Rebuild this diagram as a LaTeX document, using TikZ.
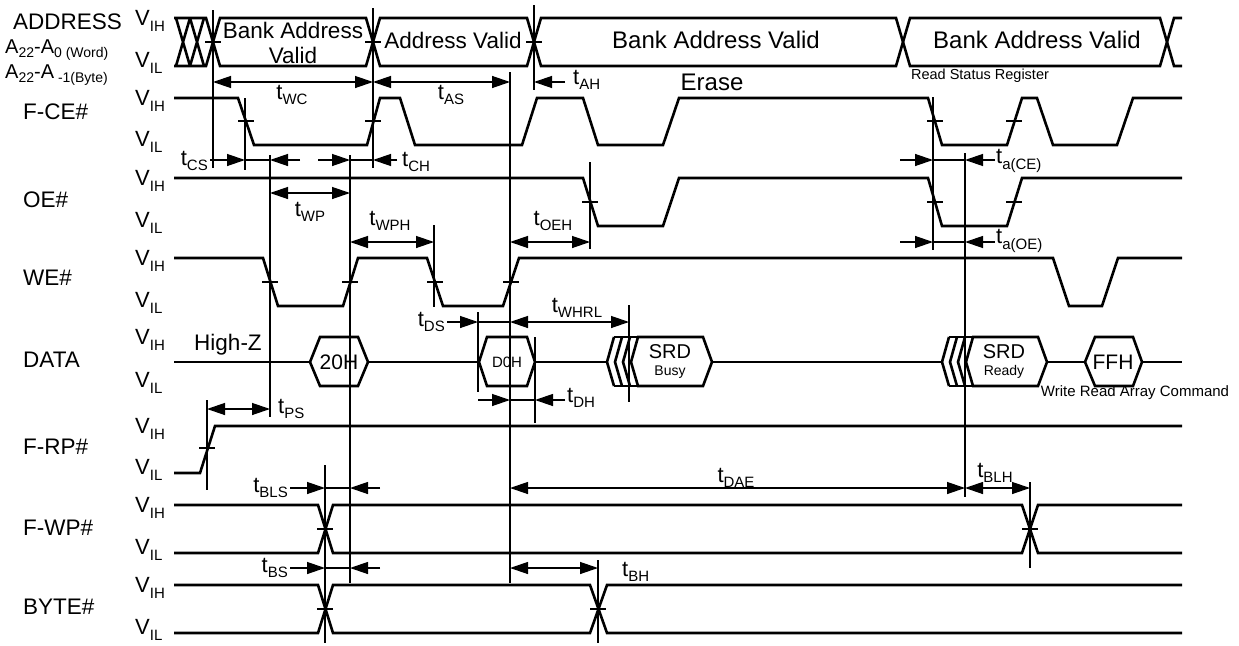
\documentclass[tikz,border=0pt]{standalone}
\usepackage{fontspec}
\setmainfont{Liberation Sans}
\usetikzlibrary{arrows.meta}

\newcommand{\lowsub}[2][15]{\raisebox{-0.45ex}{\fontsize{#1}{#1}\selectfont #2}}
\newcommand{\tname}[1]{{\fontsize{22}{22}\selectfont t\lowsub{#1}}}
\newcommand{\vname}[1]{{\fontsize{22}{22}\selectfont V\lowsub[15]{#1}}}

\begin{document}
\begin{tikzpicture}[x=1pt,y=-1pt,
  sig/.style={line width=2.6pt},
  guide/.style={line width=1.3pt},
  dimin/.style={line width=1.3pt,-{Triangle[length=18pt,width=12pt]}},
  dimboth/.style={line width=1.3pt,{Triangle[length=18pt,width=12pt]}-{Triangle[length=18pt,width=12pt]}},
  lbl/.style={inner sep=0pt,font=\fontsize{22.5}{25}\selectfont},
  note/.style={inner sep=0pt,font=\fontsize{14.5}{16}\selectfont}]

\useasboundingbox (0,0) rectangle (1239,645);

% signal names
\node[lbl,anchor=west] (addr) at (13,22) {ADDRESS};
\node[inner sep=0pt,anchor=west,font=\fontsize{20}{20}\selectfont] (aword) at (5,50) {A\lowsub[14]{22}-A\lowsub[14]{0 (Word)}};
\node[inner sep=0pt,anchor=west,font=\fontsize{20}{20}\selectfont] (abyte) at (5,75) {A\lowsub[14]{22}-A\lowsub[14]{ -1(Byte)}};
\node[lbl,anchor=west] (ce) at (23,112) {F-CE\#};
\node[lbl,anchor=west] (oe) at (23,200) {OE\#};
\node[lbl,anchor=west] (we) at (23,278) {WE\#};
\node[lbl,anchor=west] (data) at (23,360) {DATA};
\node[lbl,anchor=west] (rp) at (23,447) {F-RP\#};
\node[lbl,anchor=west] (wp) at (23,528) {F-WP\#};
\node[lbl,anchor=west] (byte) at (23,607) {BYTE\#};

% levels
\foreach \hi/\lo [count=\i] in {18/66, 98/145, 178/226, 258/306, 337/386, 426/473, 505/553, 585/633} {
  \node[inner sep=0pt,anchor=west] (vih\i) at (135,\hi+3) {\vname{IH}};
  \node[inner sep=0pt,anchor=west] (vil\i) at (135,\lo-3) {\vname{IL}};
}

% ADDRESS
\draw[sig] (174,18) -- (206,18) -- (213,42) -- (206,66) -- (174,66);
\foreach \c in {183,197}
  \draw[sig] (\c-7,18) -- (\c+7,66) (\c-7,66) -- (\c+7,18);
\foreach \a/\b in {213/373, 373/534, 534/903, 903/1167}
  \draw[sig] (\a,42) -- (\a+7,18) -- (\b-7,18) -- (\b,42) -- (\b-7,66) -- (\a+7,66) -- cycle;
\draw[sig] (1182,18) -- (1174,18) -- (1167,42) -- (1174,66) -- (1182,66);
\node[lbl,align=center] (bav1) at (293,43) {Bank Address\\Valid};
\node[lbl] (av) at (453,40) {Address Valid};
\node[lbl,font=\fontsize{24}{26}\selectfont] (bav2) at (716,40) {Bank Address Valid};
\node[lbl,font=\fontsize{24}{26}\selectfont] (bav3) at (1037,40) {Bank Address Valid};
\node[lbl,font=\fontsize{24}{26}\selectfont] (erase) at (712,82) {Erase};
\node[note] (rsr) at (980,76) {Read Status Register};

% F-CE#
\draw[sig] (174,98) -- (238,98) -- (254,145) -- (367,145) -- (380,98) -- (400,98) -- (415,145)
  -- (522,145) -- (537,98) -- (583,98) -- (598,145) -- (663,145) -- (679,98) -- (928,98)
  -- (942,145) -- (1007,145) -- (1022,98) -- (1037,98) -- (1053,145) -- (1117,145) -- (1133,98) -- (1182,98);

% OE#
\draw[sig] (174,178) -- (583,178) -- (598,226) -- (663,226) -- (679,178) -- (928,178)
  -- (942,226) -- (1007,226) -- (1022,178) -- (1182,178);

% WE#
\draw[sig] (174,258) -- (263,258) -- (278,306) -- (343,306) -- (358,258) -- (427,258) -- (443,306)
  -- (503,306) -- (519,258) -- (1053,258) -- (1069,306) -- (1102,306) -- (1118,258) -- (1182,258);

% DATA
\draw[sig] (174,362) -- (310,362) (368,362) -- (479,362) (535,362) -- (607,362)
  (712,362) -- (942,362) (1047,362) -- (1085,362) (1142,362) -- (1182,362);
\draw[sig] (310,362) -- (320,337) -- (358,337) -- (368,362) -- (358,386) -- (320,386) -- cycle;
\draw[sig] (479,362) -- (487,337) -- (527,337) -- (535,362) -- (527,386) -- (487,386) -- cycle;
\foreach \o in {0,8,16} {
  \draw[sig] (614+\o,337) -- (607+\o,362) -- (614+\o,386);
  \draw[sig] (949+\o,337) -- (942+\o,362) -- (949+\o,386);
}
\draw[sig] (614,337) -- (638,337) (614,386) -- (638,386);
\draw[sig] (631,362) -- (638,337) -- (703,337) -- (712,362) -- (703,386) -- (638,386) -- cycle;
\draw[sig] (949,337) -- (973,337) (949,386) -- (973,386);
\draw[sig] (966,362) -- (973,337) -- (1038,337) -- (1047,362) -- (1038,386) -- (973,386) -- cycle;
\draw[sig] (1085,362) -- (1095,337) -- (1133,337) -- (1142,362) -- (1133,386) -- (1095,386) -- cycle;
\node[lbl] (hz) at (228,345) {High-Z};
\node[inner sep=0pt,font=\fontsize{21}{21}\selectfont] (h20) at (339,362) {20H};
\node[inner sep=0pt,font=\fontsize{15}{15}\selectfont] (hd0) at (507,362) {D0H};
\node[inner sep=0pt,font=\fontsize{20}{20}\selectfont] (srd1) at (670,352) {SRD};
\node[inner sep=0pt,font=\fontsize{14}{14}\selectfont] (busy) at (670,372) {Busy};
\node[inner sep=0pt,font=\fontsize{20}{20}\selectfont] (srd2) at (1004,352) {SRD};
\node[inner sep=0pt,font=\fontsize{14}{14}\selectfont] (ready) at (1004,372) {Ready};
\node[inner sep=0pt,font=\fontsize{21}{21}\selectfont] (hff) at (1113,362) {FFH};
\node[inner sep=0pt,font=\fontsize{15}{16}\selectfont] (wrac) at (1135,393) {Write Read Array Command};

% F-RP#
\draw[sig] (174,473) -- (200,473) -- (215,426) -- (1182,426);

% F-WP#
\draw[sig] (174,505) -- (318,505) -- (333,553) -- (1022,553) -- (1038,505) -- (1182,505);
\draw[sig] (174,553) -- (318,553) -- (333,505) -- (1022,505) -- (1038,553) -- (1182,553);

% BYTE#
\draw[sig] (174,585) -- (318,585) -- (333,633) -- (590,633) -- (607,585) -- (1182,585);
\draw[sig] (174,633) -- (318,633) -- (333,585) -- (590,585) -- (607,633) -- (1182,633);

% crossing marks
\foreach \x/\y in {213/42, 373/42, 534/42, 246/121, 373/121, 935/121, 1014/121,
  590/202, 935/202, 1014/202, 270/282, 350/282, 435/282, 511/282,
  207/448, 325/529, 1030/529, 325/609, 598/609}
  \draw[guide] (\x-8,\y) -- (\x+8,\y);

% reference lines
\foreach \x/\a/\b in {213/10/168, 373/8/168, 534/5/90, 245/98/170, 270/155/417, 350/155/583,
  510/72/583, 434/225/307, 590/162/249, 933/97/250, 965/153/497, 478/312/392, 629/305/402,
  535/337/423, 207/400/490, 325/465/643, 1030/482/568, 598/560/643}
  \draw[guide] (\x,\a) -- (\x,\b);

% timing
\draw[dimboth] (213,82) -- (373,82);
\draw[dimboth] (373,82) -- (510,82);
\draw[dimin] (565,82) -- (534,82);
\node[inner sep=0pt] (twc) at (292,95) {\tname{WC}};
\node[inner sep=0pt] (tas) at (451,95) {\tname{AS}};
\node[inner sep=0pt,anchor=west] (tah) at (573,80) {\tname{AH}};

\draw[dimin] (210,160) -- (245,160);
\draw[guide] (245,160) -- (270,160);
\draw[dimin] (300,160) -- (270,160);
\draw[dimin] (318,160) -- (350,160);
\draw[guide] (350,160) -- (373,160);
\draw[dimin] (397,160) -- (373,160);
\node[inner sep=0pt,anchor=east] (tcs) at (208,161) {\tname{CS}};
\node[inner sep=0pt,anchor=west] (tch) at (402,162) {\tname{CH}};

\draw[dimin] (900,160) -- (933,160);
\draw[guide] (933,160) -- (965,160);
\draw[dimin] (995,160) -- (965,160);
\node[inner sep=0pt,anchor=west] (tace) at (996,161) {\tname{a(CE)}};
\draw[dimin] (900,242) -- (933,242);
\draw[guide] (933,242) -- (965,242);
\draw[dimin] (995,242) -- (965,242);
\node[inner sep=0pt,anchor=west] (taoe) at (996,241) {\tname{a(OE)}};

\draw[dimboth] (270,193) -- (350,193);
\node[inner sep=0pt] (twp) at (310,212) {\tname{WP}};
\draw[dimboth] (350,242) -- (434,242);
\node[inner sep=0pt] (twph) at (390,221) {\tname{WPH}};
\draw[dimboth] (510,242) -- (590,242);
\node[inner sep=0pt] (toeh) at (553,221) {\tname{OEH}};

\draw[dimin] (447,322) -- (478,322);
\draw[guide] (478,322) -- (510,322);
\draw[dimboth] (510,322) -- (629,322);
\node[inner sep=0pt,anchor=east] (tds) at (445,322) {\tname{DS}};
\node[inner sep=0pt] (twhrl) at (577,308) {\tname{WHRL}};

\draw[dimin] (478,400) -- (510,400);
\draw[guide] (510,400) -- (535,400);
\draw[dimin] (565,400) -- (535,400);
\node[inner sep=0pt,anchor=west] (tdh) at (567,398) {\tname{DH}};

\draw[dimboth] (207,409) -- (270,409);
\node[inner sep=0pt,anchor=west] (tps) at (278,409) {\tname{PS}};

\draw[dimin] (290,488) -- (325,488);
\draw[guide] (325,488) -- (350,488);
\draw[dimin] (380,488) -- (350,488);
\node[inner sep=0pt,anchor=east] (tbls) at (288,488) {\tname{BLS}};
\draw[dimboth] (510,488) -- (965,488);
\node[inner sep=0pt] (tdae) at (736,478) {\tname{DAE}};
\draw[dimboth] (965,488) -- (1030,488);
\node[inner sep=0pt] (tblh) at (995,473) {\tname{BLH}};

\draw[dimin] (290,568) -- (325,568);
\draw[guide] (325,568) -- (350,568);
\draw[dimin] (380,568) -- (350,568);
\node[inner sep=0pt,anchor=east] (tbs) at (288,568) {\tname{BS}};
\draw[dimboth] (510,568) -- (598,568);
\node[inner sep=0pt,anchor=west] (tbh) at (622,572) {\tname{BH}};

\end{tikzpicture}
\end{document}
